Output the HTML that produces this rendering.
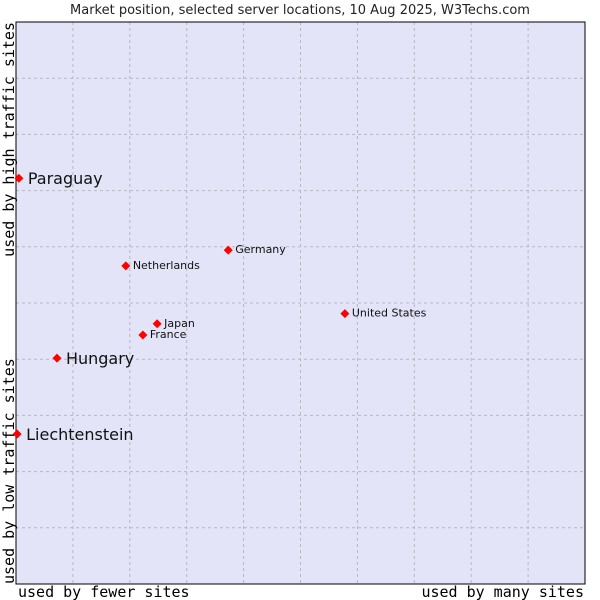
<!DOCTYPE html>
<html><head><meta charset="utf-8"><style>
body{margin:0;background:#fff;}
svg{display:block;font-family:"DejaVu Sans","Liberation Sans",sans-serif;}
.mono{font-family:"DejaVu Sans Mono","Liberation Mono",monospace;font-size:15px;fill:#000;}
</style></head><body>
<svg id="chart" width="600" height="600">
<text x="300" y="14" text-anchor="middle" font-size="13" fill="#222">Market position, selected server locations, 10 Aug 2025, W3Techs.com</text>
<rect x="16" y="22" width="569" height="562" fill="#e3e4f8"/>
<g id="grid"></g>
<rect x="16" y="22" width="569" height="562" fill="none" stroke="#000" stroke-width="1"/>
<text class="mono" transform="translate(14,22) rotate(-90)" text-anchor="end">used by high traffic sites</text>
<text class="mono" transform="translate(14,584) rotate(-90)" text-anchor="start">used by low traffic sites</text>
<text class="mono" x="18" y="597">used by fewer sites</text>
<text class="mono" x="584" y="597" text-anchor="end">used by many sites</text>
<g id="points"></g>
</svg>
<script>
const names=["Paraguay","Netherlands","Germany","United States","Japan","France","Hungary","Liechtenstein"];
const xVals=[0.5,19.3,37.3,57.8,24.8,22.3,7.2,0.2];
const yVals=[72.2,56.6,59.4,48.1,46.3,44.3,40.2,26.7];
const bigLabel=[true,false,false,false,false,false,true,true];
const NS="http://www.w3.org/2000/svg";
const X0=16,X1=585,Y0=584,Y1=22;
const sx=v=>X0+v/100*(X1-X0);
const sy=v=>Y0-v/100*(Y0-Y1);
const grid=document.getElementById('grid');
for(let k=1;k<10;k++){
  const v=document.createElementNS(NS,'line');
  
  
  v.setAttribute('x1',sx(k*10));v.setAttribute('x2',sx(k*10));v.setAttribute('y1',Y1);v.setAttribute('y2',Y0);
  v.setAttribute('stroke','#b8b8c0');v.setAttribute('stroke-dasharray','3,3');
  grid.appendChild(v);
  const h=document.createElementNS(NS,'line');
  
  
  h.setAttribute('y1',sy(k*10));h.setAttribute('y2',sy(k*10));h.setAttribute('x1',X0);h.setAttribute('x2',X1);
  h.setAttribute('stroke','#b8b8c0');h.setAttribute('stroke-dasharray','3,3');
  grid.appendChild(h);
}
const pts=document.getElementById('points');
names.forEach((n,i)=>{
  const x=sx(xVals[i]),y=sy(yVals[i]);
  const p=document.createElementNS(NS,'polygon');
  
  
  p.setAttribute('points',`${x},${y-4.5} ${x+4.5},${y} ${x},${y+4.5} ${x-4.5},${y}`);
  p.setAttribute('fill','#f00');
  pts.appendChild(p);
  const t=document.createElementNS(NS,'text');
  
  
  const big=bigLabel[i];
  t.setAttribute('x',x+(big?9:7));
  t.setAttribute('y',y+(big?6:3));
  t.setAttribute('font-size',big?16:11);
  t.setAttribute('fill','#111');
  t.textContent=n;
  pts.appendChild(t);
});
</script>
</body></html>
